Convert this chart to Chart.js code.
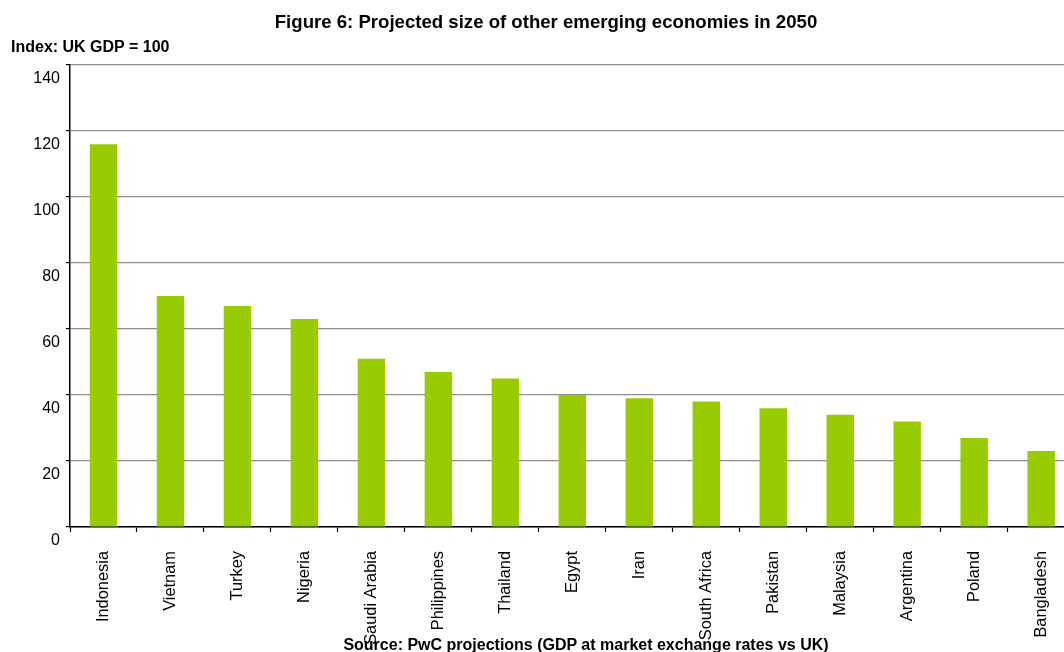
<!DOCTYPE html>
<html>
<head>
<meta charset="utf-8">
<script src="https://cdn.jsdelivr.net/npm/chart.js@4/dist/chart.umd.min.js"></script>
<style>
  html, body { margin: 0; padding: 0; overflow: hidden; background: #fff; width: 1064px; height: 652px; }
  #wrap { position: absolute; left: 0; top: 0; width: 1080px; height: 652px; }
  .txt { position: absolute; font-family: "Liberation Sans", Arial, sans-serif; font-weight: bold; color: #000; white-space: nowrap; }
  #title { left: 546px; top: 22px; transform: translate(-50%, -50%); font-size: 18.6px; }
  #ylab { left: 11px; top: 47px; transform: translateY(-50%); font-size: 16px; }
  #source { left: 586px; top: 645px; transform: translate(-50%, -50%); font-size: 16px; }
</style>
</head>
<body>
<div id="wrap"><canvas id="c" width="1080" height="652"></canvas></div>
<div class="txt" id="title">Figure 6: Projected size of other emerging economies in 2050</div>
<div class="txt" id="ylab">Index: UK GDP = 100</div>
<div class="txt" id="source">Source: PwC projections (GDP at market exchange rates vs UK)</div>
<script>
const countries = ["Indonesia", "Vietnam", "Turkey", "Nigeria", "Saudi Arabia", "Philippines", "Thailand", "Egypt", "Iran", "South Africa", "Pakistan", "Malaysia", "Argentina", "Poland", "Bangladesh"];
const gdpIndex2050 = [116, 70, 67, 63, 51, 47, 45, 40, 39, 38, 36, 34, 32, 27, 23];
const yTicks = [0, 20, 40, 60, 80, 100, 120, 140];

const xFont = { family: "'Liberation Sans', Arial, sans-serif", size: 16.4 };
const yFont = { family: "'Liberation Sans', Arial, sans-serif", size: 16 };

new Chart(document.getElementById('c'), {
  type: 'bar',
  data: {
    labels: countries,
    datasets: [{
      data: gdpIndex2050,
      backgroundColor: '#99cc00',
      borderWidth: 0,
      categoryPercentage: 1,
      barPercentage: 0.41
    }]
  },
  options: {
    responsive: false,
    animation: false,
    events: [],
    layout: { padding: { top: 65, right: 5, left: 0, bottom: 0 } },
    plugins: { legend: { display: false }, tooltip: { enabled: false }, title: { display: false } },
    scales: {
      x: {
        offset: true,
        grid: { display: true, offset: true, drawOnChartArea: false, drawTicks: true, tickLength: 5, tickColor: '#000', tickWidth: 1.2 },
        border: { color: '#000', width: 1.5 },
        ticks: { font: xFont, color: '#000', maxRotation: 90, minRotation: 90, autoSkip: false, padding: 19 },
        afterFit: s => { s.height = 125; }
      },
      y: {
        min: 0, max: 140,
        afterBuildTicks: s => { s.ticks = yTicks.map(v => ({ value: v })); },
        grid: { color: '#8c8c8c', lineWidth: 1.2, drawTicks: true, tickLength: 4, tickColor: '#000' },
        border: { color: '#000', width: 1.5 },
        ticks: { font: yFont, color: '#000', padding: 6, labelOffset: 14 },
        afterFit: s => { s.width = 70; }
      }
    }
  }
});
</script>
</body>
</html>
